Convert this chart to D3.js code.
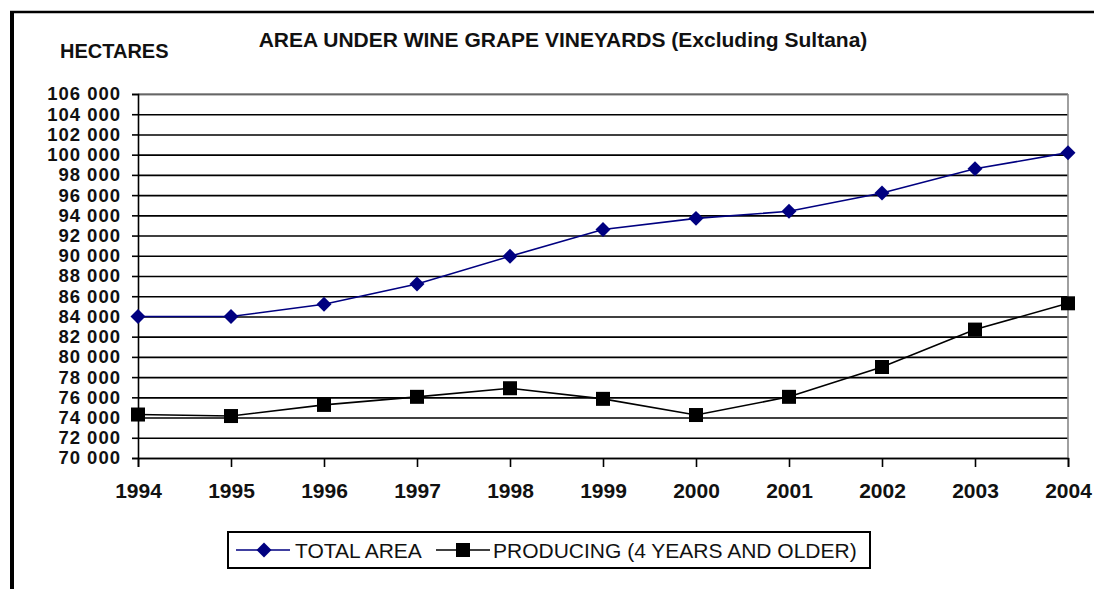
<!DOCTYPE html>
<html>
<head>
<meta charset="utf-8">
<script src="https://cdn.jsdelivr.net/npm/d3@7"></script>
<style>
  html, body { margin: 0; padding: 0; background: #fff; }
  svg text { font-family: "Liberation Sans", Arial, sans-serif; fill: #111; }
</style>
</head>
<body>
<div id="container"></div>
<script>
const years = ['1994', '1995', '1996', '1997', '1998', '1999', '2000', '2001', '2002', '2003', '2004'];
const totalArea = [84000, 84000, 85200, 87200, 89950, 92600, 93700, 94400, 96200, 98600, 100200];
const producing = [74300, 74150, 75250, 76050, 76900, 75850, 74250, 76050, 79000, 82700, 85300];
const yTicks = d3.range(70000, 106001, 2000);
const seriesNames = ['TOTAL AREA', 'PRODUCING (4 YEARS AND OLDER)'];

const width = 1094, height = 589;
const margin = { top: 94, right: 26, bottom: 131, left: 138 };
const innerW = width - margin.left - margin.right;
const innerH = height - margin.top - margin.bottom;

const svg = d3.select('#container')
  .append('svg')
  .attr('width', width)
  .attr('height', height);

// outer frame (left and top edges only visible)
svg.append('line').attr('x1', 12).attr('x2', 12).attr('y1', 11).attr('y2', height)
  .attr('stroke', '#000').attr('stroke-width', 4);
svg.append('line').attr('x1', 10).attr('x2', width).attr('y1', 12).attr('y2', 12)
  .attr('stroke', '#000').attr('stroke-width', 2.5);

svg.append('text')
  .attr('x', 563).attr('y', 47)
  .attr('text-anchor', 'middle')
  .attr('font-size', 21).attr('font-weight', 'bold')
  .text('AREA UNDER WINE GRAPE VINEYARDS (Excluding Sultana)');

svg.append('text')
  .attr('x', 60).attr('y', 58)
  .attr('font-size', 20).attr('font-weight', 'bold')
  .text('HECTARES');

const g = svg.append('g').attr('transform', `translate(${margin.left},${margin.top})`);

const x = d3.scalePoint().domain(years).range([0, innerW]);
const y = d3.scaleLinear().domain([70000, 106000]).range([innerH, 0]);

// gridlines
g.append('g')
  .call(d3.axisLeft(y).tickValues(yTicks).tickSize(-innerW).tickFormat(''))
  .call(s => s.select('.domain').remove())
  .call(s => s.selectAll('line').attr('stroke', '#000').attr('stroke-width', 1.6));

// plot border top/right in gray
g.append('line').attr('x1', 0).attr('x2', innerW).attr('y1', 0).attr('y2', 0)
  .attr('stroke', '#888').attr('stroke-width', 1.6);
g.append('line').attr('x1', innerW).attr('x2', innerW).attr('y1', 0).attr('y2', innerH)
  .attr('stroke', '#888').attr('stroke-width', 1.6);

const fmt = v => d3.format(',')(v).replace(/,/g, ' ');

const yAxis = g.append('g')
  .call(d3.axisLeft(y).tickValues(yTicks).tickSize(6).tickPadding(11).tickFormat(fmt));
yAxis.select('.domain').attr('stroke', '#000').attr('stroke-width', 1.6);
yAxis.selectAll('line').attr('stroke', '#000').attr('stroke-width', 1.6);
yAxis.selectAll('text')
  .attr('font-size', 18.5).attr('font-weight', 'bold')
  .attr('letter-spacing', 1)
  .attr('font-family', '"Liberation Sans", Arial, sans-serif')
  .attr('fill', '#111');

const xAxis = g.append('g')
  .attr('transform', `translate(0,${innerH})`)
  .call(d3.axisBottom(x).tickSize(9).tickPadding(16));
xAxis.select('.domain').attr('stroke', '#000').attr('stroke-width', 1.6);
xAxis.selectAll('line').attr('stroke', '#000').attr('stroke-width', 1.6);
xAxis.selectAll('text')
  .attr('font-size', 21).attr('font-weight', 'bold')
  .attr('font-family', '"Liberation Sans", Arial, sans-serif')
  .attr('fill', '#111');

const line = d3.line().x((d, i) => x(years[i])).y(d => y(d));

g.append('path').datum(totalArea)
  .attr('fill', 'none').attr('stroke', '#000080').attr('stroke-width', 1.6)
  .attr('d', line);
g.append('path').datum(producing)
  .attr('fill', 'none').attr('stroke', '#000').attr('stroke-width', 1.6)
  .attr('d', line);

const diamond = d3.symbol().type(d3.symbolSquare).size(112);
g.selectAll('.dia').data(totalArea).join('path')
  .attr('class', 'dia')
  .attr('d', diamond)
  .attr('transform', (d, i) => `translate(${x(years[i])},${y(d)}) rotate(45)`)
  .attr('fill', '#000080');

g.selectAll('.sq').data(producing).join('rect')
  .attr('class', 'sq')
  .attr('x', (d, i) => x(years[i]) - 7)
  .attr('y', d => y(d) - 7)
  .attr('width', 14).attr('height', 14)
  .attr('fill', '#000');

// legend
const lg = svg.append('g').attr('transform', 'translate(228,532)');
lg.append('rect').attr('width', 642).attr('height', 36)
  .attr('fill', '#fff').attr('stroke', '#000').attr('stroke-width', 2);

lg.append('line').attr('x1', 8).attr('x2', 62).attr('y1', 18).attr('y2', 18)
  .attr('stroke', '#000080').attr('stroke-width', 1.6);
lg.append('path').attr('d', diamond)
  .attr('transform', 'translate(36,18) rotate(45)').attr('fill', '#000080');
lg.append('text').attr('x', 67).attr('y', 26)
  .attr('font-size', 21).text(seriesNames[0]);

lg.append('line').attr('x1', 208).attr('x2', 262).attr('y1', 18).attr('y2', 18)
  .attr('stroke', '#000').attr('stroke-width', 1.6);
lg.append('rect').attr('x', 228).attr('y', 11).attr('width', 14).attr('height', 14).attr('fill', '#000');
lg.append('text').attr('x', 265).attr('y', 26)
  .attr('font-size', 21).text(seriesNames[1]);
</script>
</body>
</html>
